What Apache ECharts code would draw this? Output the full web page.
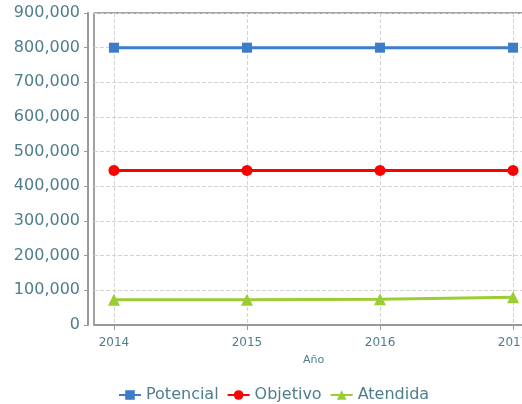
<!DOCTYPE html>
<html>
<head>
<meta charset="utf-8">
<script src="https://cdn.jsdelivr.net/npm/echarts@6/dist/echarts.min.js"></script>
<style>html,body{margin:0;padding:0;background:#fff;overflow:hidden}#c{width:545px;height:404px}</style>
</head>
<body>
<div id="c"></div>
<script>
var years = [2014, 2015, 2016, 2017];
var potencial = [800000, 800000, 800000, 800000];
var objetivo = [446000, 446000, 446000, 446000];
var atendida = [73000, 73000, 74000, 80000];
var yTicks = [0, 100000, 200000, 300000, 400000, 500000, 600000, 700000, 800000, 900000];

var labelColor = '#4e7d8c';
var font = 'DejaVu Sans';
function pairs(arr) { return years.map(function (y, i) { return [y, arr[i]]; }); }

var chart = echarts.init(document.getElementById('c'));
chart.setOption({
  animation: false,
  textStyle: { fontFamily: font },
  grid: { left: 94, width: 439, top: 13, height: 312, show: true, borderColor: '#444', borderWidth: 1 },
  legend: {
    left: 113, top: 382,
    itemWidth: 22, itemHeight: 12, itemGap: 8,
    textStyle: { color: labelColor, fontSize: 16, fontFamily: font },
    data: ['Potencial', 'Objetivo', 'Atendida']
  },
  xAxis: {
    type: 'value', min: 2013.85, max: 2017.15, offset: 6,
    name: 'Año', nameLocation: 'middle', nameGap: 24,
    nameTextStyle: { color: labelColor, fontSize: 11, fontFamily: font },
    axisLine: { show: true, lineStyle: { color: '#999', width: 2 } },
    axisTick: { show: true, length: 5, customValues: years, lineStyle: { color: '#999' } },
    axisLabel: { customValues: years, color: labelColor, fontSize: 12, margin: 6, fontFamily: font,
      formatter: function (v) { return String(v); } },
    splitLine: { show: true, lineStyle: { color: '#d3d3d3', type: 'dashed' } }
  },
  yAxis: {
    type: 'value', min: 0, max: 900000, interval: 100000, offset: 6,
    axisLine: { show: true, lineStyle: { color: '#999', width: 2 } },
    axisTick: { show: true, length: 4, lineStyle: { color: '#999' } },
    axisLabel: { color: labelColor, fontSize: 16, margin: 8, fontFamily: font,
      formatter: function (v) { return v.toLocaleString('en-US'); } },
    splitLine: { show: true, lineStyle: { color: '#d3d3d3', type: 'dashed' } }
  },
  series: [
    { name: 'Potencial', type: 'line', data: pairs(potencial), symbol: 'rect', symbolSize: 10,
      itemStyle: { color: '#3c7cc9' }, lineStyle: { width: 3, color: '#3c7cc9' } },
    { name: 'Objetivo', type: 'line', data: pairs(objetivo), symbol: 'circle', symbolSize: 11,
      itemStyle: { color: '#ff0000' }, lineStyle: { width: 3, color: '#ff0000' } },
    { name: 'Atendida', type: 'line', data: pairs(atendida), symbol: 'triangle', symbolSize: 12,
      itemStyle: { color: '#9acd32' }, lineStyle: { width: 3, color: '#9acd32' } }
  ]
});
</script>
</body>
</html>
